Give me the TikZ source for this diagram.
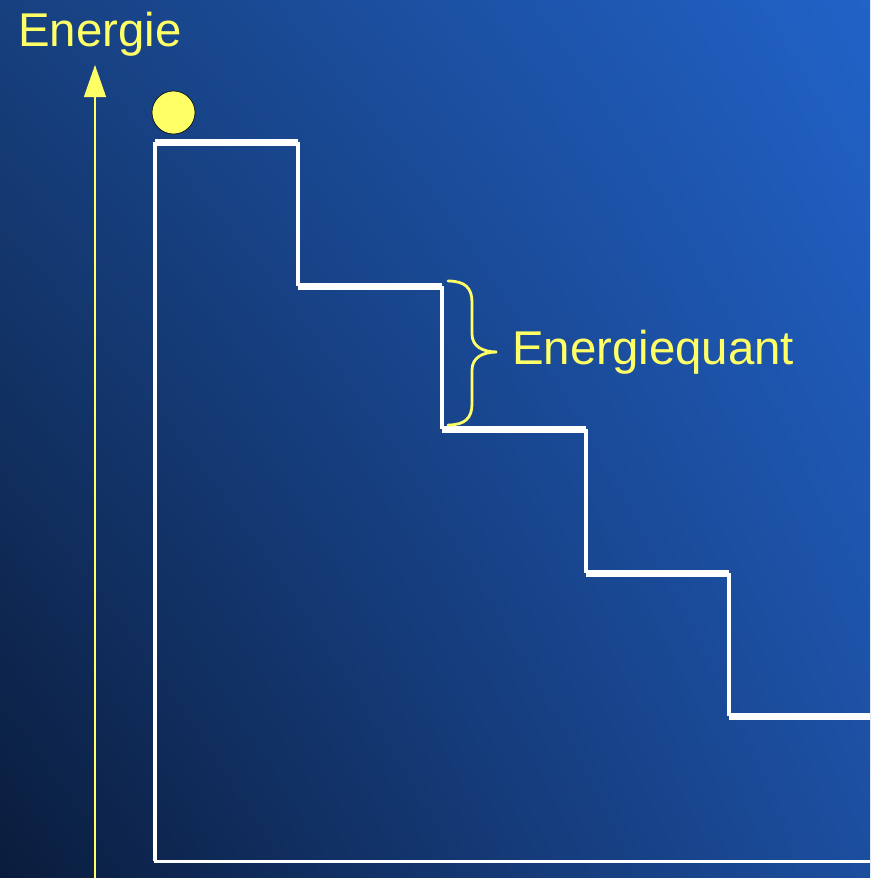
\documentclass[tikz,border=0pt]{standalone}
\usepackage{fontspec}
\setmainfont{Liberation Sans}
\usetikzlibrary{arrows.meta,shadings}
\definecolor{bgUL}{HTML}{17407F}
\definecolor{bgUR}{HTML}{2162C8}
\definecolor{bgLL}{HTML}{0A1C3C}
\definecolor{bgLR}{HTML}{1C4E9F}
\definecolor{yel}{HTML}{FFFF66}
\tikzset{
  label text/.style={text=yel, font=\fontsize{47.4}{52}\selectfont, inner sep=0pt, anchor=base west},
  tread/.style={draw=white, line width=7pt},
  riser/.style={draw=white, line width=3.5pt},
  floor/.style={draw=white, line width=3pt},
  axis/.style={draw=yel, line width=1.3pt, -{Triangle[width=22pt,length=32pt]}},
  brace/.style={draw=yel, line width=2.8pt, line cap=round},
}
\begin{document}
\begin{tikzpicture}[x=1pt,y=-1pt]
\useasboundingbox (0,0) rectangle (870,878);
\shade[upper left=bgUL, upper right=bgUR, lower left=bgLL, lower right=bgLR] (0,0) rectangle (870,878);
% axis
\coordinate (axb) at (95,878);
\coordinate (axt) at (95,65);
\draw[axis] (axb) -- (axt);
\node[label text] (energie) at (18,46) {Energie};
% frame
\coordinate (f0) at (155,142);
\coordinate (f1) at (155,861);
\coordinate (f2) at (870,861);
\draw[riser] (f0) -- (f1);
\draw[floor] (153.5,861) -- (f2);
% steps
\coordinate (s1a) at (155,142); \coordinate (s1b) at (298,142);
\coordinate (s2a) at (298,286); \coordinate (s2b) at (442,286);
\coordinate (s3a) at (442,429); \coordinate (s3b) at (586,429);
\coordinate (s4a) at (586,573); \coordinate (s4b) at (729,573);
\coordinate (s5a) at (729,716); \coordinate (s5b) at (870,716);
\draw[tread] (s1a) -- (s1b);
\draw[tread] (s2a) -- (s2b);
\draw[tread] (s3a) -- (s3b);
\draw[tread] (s4a) -- (s4b);
\draw[tread] (s5a) -- (s5b);
\draw[riser] (s1b) -- (s2a);
\draw[riser] (s2b) -- (s3a);
\draw[riser] (s3b) -- (s4a);
\draw[riser] (s4b) -- (s5a);
% ball
\node[circle, fill=yel, draw=black, line width=0.6pt, minimum size=43pt, inner sep=0pt] (ball) at (173.5,112.5) {};
% brace
\coordinate (bt) at (448,281);
\coordinate (bb) at (448,425);
\coordinate (tip) at (497,352);
\draw[brace] (bt) .. controls (465,281) and (472,288) .. (472,302) -- (472,334)
  .. controls (472,346) and (482,352) .. (tip)
  .. controls (482,352) and (472,358) .. (472,370) -- (472,404)
  .. controls (472,418) and (465,425) .. (bb);
\node[label text] (quant) at (512,364) {Energiequant};
\end{tikzpicture}
\end{document}
